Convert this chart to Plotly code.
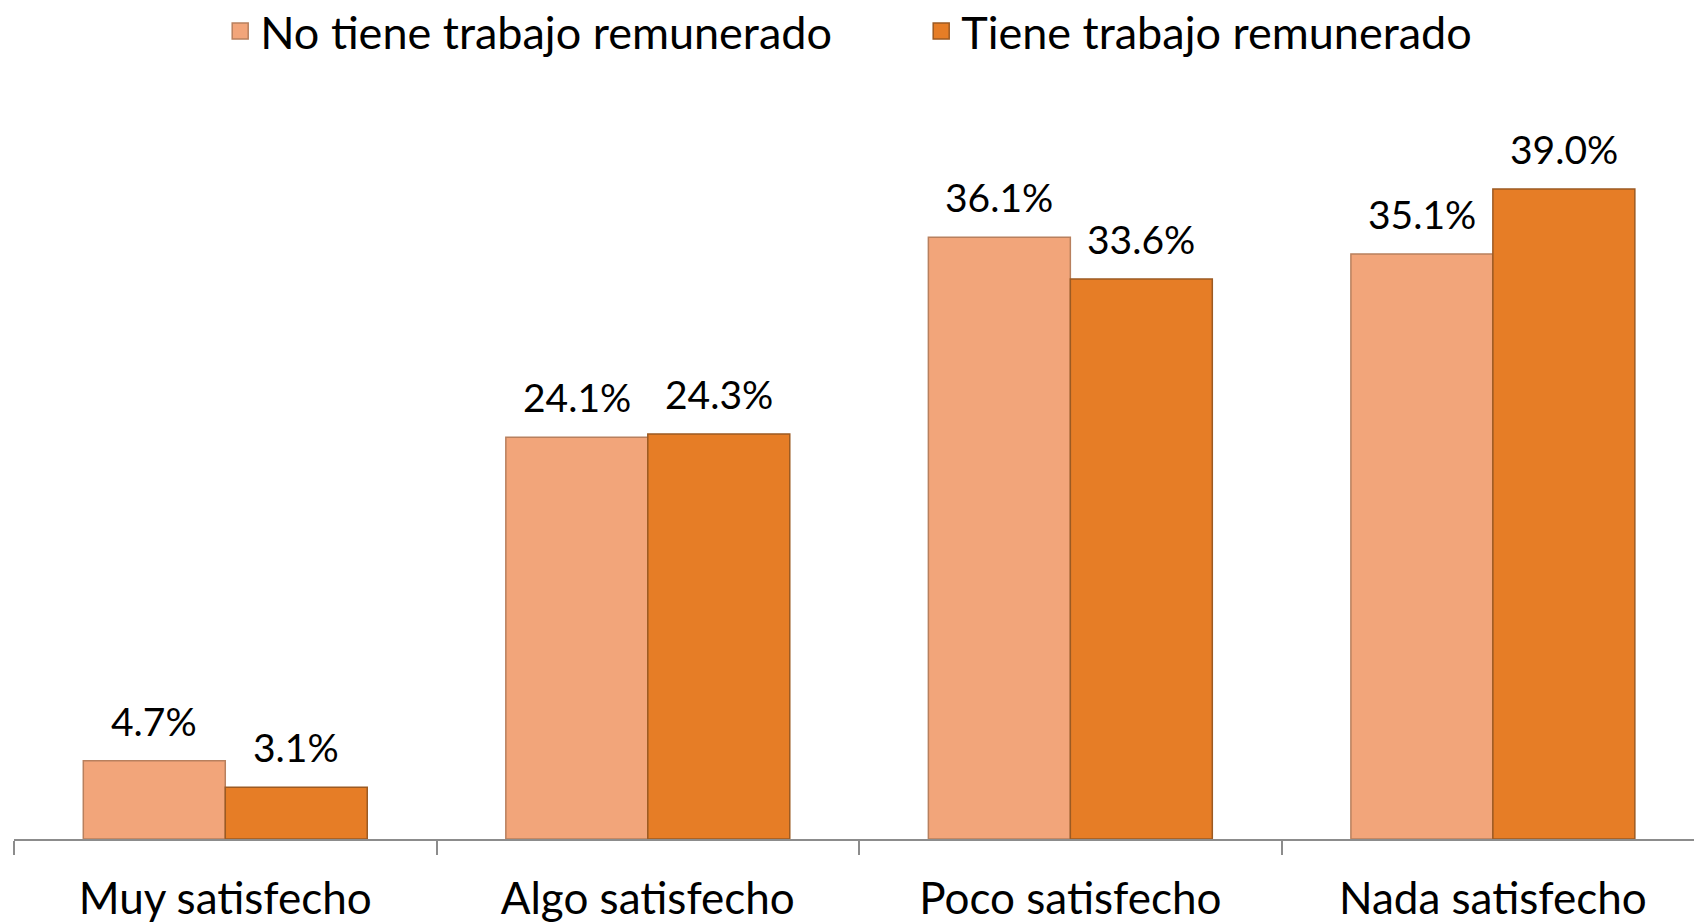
import plotly.graph_objects as go

# Satisfacción por situación laboral (porcentajes)
categorias = ["Muy satisfecho", "Algo satisfecho", "Poco satisfecho", "Nada satisfecho"]
no_trabajo = [4.7, 24.1, 36.1, 35.1]
si_trabajo = [3.1, 24.3, 33.6, 39.0]
series = ["No tiene trabajo remunerado", "Tiene trabajo remunerado"]

FONT = "Lato"
colores = ["#F2A57A", "#E67D26"]
bordes = ["#B8805E", "#9C5A22"]

fig = go.Figure()
for nombre, valores, color, borde in zip(series, [no_trabajo, si_trabajo], colores, bordes):
    fig.add_trace(go.Bar(
        x=categorias, y=valores, name=nombre, showlegend=False,
        marker=dict(color=color, line=dict(color=borde, width=1.5)),
    ))

# Entradas de leyenda con símbolo cuadrado más grande
for nombre, color, borde in zip(series, colores, bordes):
    fig.add_trace(go.Scatter(
        x=[None], y=[None], mode="markers", name=nombre,
        marker=dict(symbol="square", size=26, color=color, line=dict(color=borde, width=1.5)),
    ))

# Etiquetas de valor sobre cada barra (desplazadas a la mitad de su grupo)
for valores, dx in [(no_trabajo, -71), (si_trabajo, 71)]:
    for cat, v in zip(categorias, valores):
        fig.add_annotation(
            x=cat, y=v, text=f"{v:.1f}%", showarrow=False,
            xshift=dx, yanchor="bottom", yshift=15,
            font=dict(family=FONT, size=39, color="#000000"),
        )

fig.update_layout(
    width=1694, height=922,
    margin=dict(l=14, r=0, t=89, b=83, autoexpand=False),
    paper_bgcolor="white", plot_bgcolor="white",
    barmode="group", bargap=0.328, bargroupgap=0,
    font=dict(family=FONT, color="#000000"),
    showlegend=True,
    legend=dict(
        orientation="h", x=0.54, xanchor="center", y=1.077, yanchor="middle",
        font=dict(family=FONT, size=45, color="#000000"),
        itemsizing="trace", itemwidth=30, entrywidth=656, entrywidthmode="pixels",
        traceorder="normal",
    ),
    xaxis=dict(
        type="category", range=[-0.5, 3.476],
        showline=True, linecolor="#8C8C8C", linewidth=2,
        ticks="outside", tickson="boundaries", ticklen=14,
        tickcolor="#8C8C8C", tickwidth=2,
        tickfont=dict(family=FONT, size=44, color="#000000"),
        ticklabelstandoff=20,
        showgrid=False, zeroline=False,
    ),
    yaxis=dict(range=[0, 45], visible=False, showgrid=False, zeroline=False),
)

fig.write_html("out.html")
